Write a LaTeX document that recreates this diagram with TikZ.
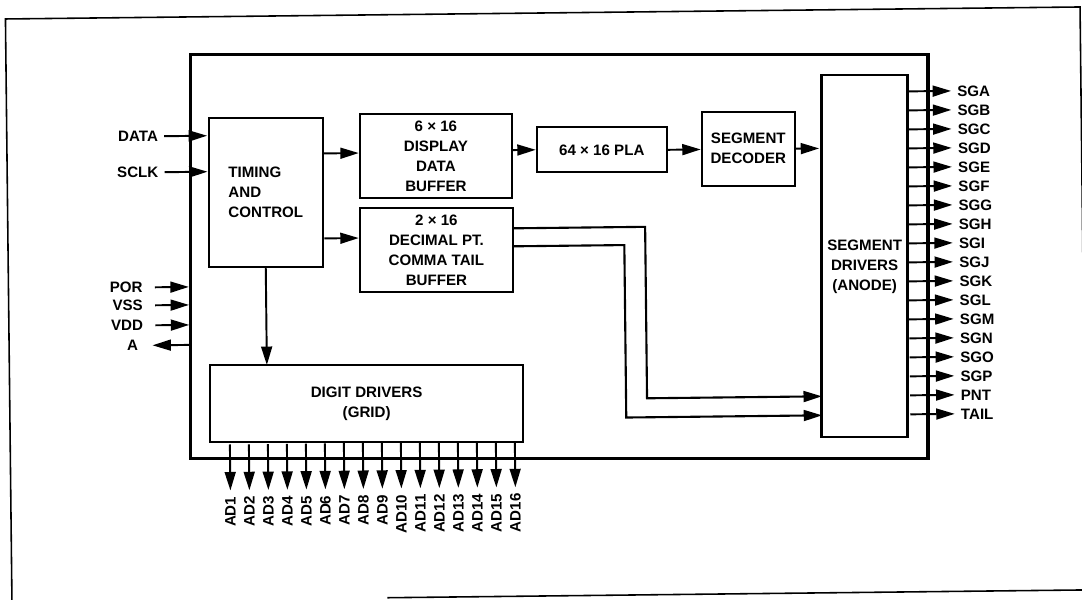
\documentclass[tikz,border=0pt]{standalone}
\usepackage{fontspec}
\setmainfont{Liberation Sans}
\usetikzlibrary{arrows.meta}
\tikzset{
  frame/.style={line width=0.9pt, draw=black},
  chipbox/.style={draw=black, line width=1.8pt, minimum width=14.76cm, minimum height=8.08cm},
  block/.style={draw=black, line width=1.2pt, align=center, inner sep=0pt, font=\bfseries\fontsize{8.6}{11.4}\selectfont},
  blocktext/.style={align=center, inner sep=0pt, font=\bfseries\fontsize{8.6}{11.4}\selectfont},
  pinlabel/.style={font=\bfseries\fontsize{8.6}{10}\selectfont},
  sig/.style={line width=1.1pt, -{Triangle[length=10.5pt, width=6.2pt]}},
  bus/.style={line width=1.2pt, -{Triangle[length=10.5pt, width=6.2pt]}},
}
\begin{document}
\begin{tikzpicture}[x=0.02cm, y=-0.02cm]
\useasboundingbox (0,0) rectangle (1082,599);
\clip (0,0) rectangle (1082,599);
\begin{scope}[rotate around={0.64:(541,300)}]
\draw[frame] (8.6,620) -- (8.6,13) -- (1083.3,13) -- (1083.3,596) -- (384,596);
\node[chipbox] (chip) at (559.5,257) {};
\node[block, minimum width=2.28cm, minimum height=2.98cm, align=left] (timing) at (267,189.5) {TIMING\\AND\\CONTROL};
\node[block, minimum width=3.04cm, minimum height=1.68cm] (dispbuf) at (437.5,155) {6 × 16\\DISPLAY\\DATA\\BUFFER};
\node[block, minimum width=3.06cm, minimum height=1.68cm] (decbuf) at (437,249) {2 × 16\\DECIMAL PT.\\COMMA TAIL\\BUFFER};
\node[block, minimum width=2.6cm, minimum height=0.9cm] (pla) at (603.5,150.5) {64 × 16 PLA};
\node[block, minimum width=1.86cm, minimum height=1.48cm] (segdec) at (750,151) {SEGMENT\\DECODER};
\node[block, minimum width=1.72cm, minimum height=7.24cm] (segdrv) at (865,260) {};
\node[blocktext] (segdrvtxt) at (865,270) {SEGMENT\\DRIVERS\\(ANODE)};
\node[block, minimum width=6.26cm, minimum height=1.54cm] (digit) at (365.5,401.5) {DIGIT DRIVERS\\(GRID)};

\node[pinlabel, anchor=east] (data) at (166,132) {DATA};
\node[pinlabel, anchor=east] (sclk) at (166,168) {SCLK};
\node[pinlabel, anchor=east, inner xsep=6.8pt] (por) at (155,283) {POR};
\node[pinlabel, anchor=east, inner xsep=6.8pt] (vss) at (155,301) {VSS};
\node[pinlabel, anchor=east, inner xsep=6.8pt] (vdd) at (155,321) {VDD};
\node[pinlabel, anchor=east, inner xsep=8pt] (apin) at (152,341) {A};
\draw[sig] (data.east) -- (data.east -| timing.west);
\draw[sig] (sclk.east) -- (sclk.east -| timing.west);
\draw[sig] (por.east) -- (por.east -| chip.west);
\draw[sig] (vss.east) -- (vss.east -| chip.west);
\draw[sig] (vdd.east) -- (vdd.east -| chip.west);
\draw[sig] (apin.east -| chip.west) -- (apin.east);

\draw[sig] (timing.east |- 0,151) -- (dispbuf.west |- 0,151);
\draw[sig] (timing.east |- 0,236) -- (decbuf.west |- 0,236);
\draw[sig] (timing.south) -- (timing.south |- digit.north);
\draw[sig] (dispbuf.east |- pla.west) -- (pla.west);
\draw[sig] (pla.east) -- (pla.east -| segdec.west);
\draw[sig] (segdec.east) -- (segdec.east -| segdrv.west);

\foreach \s [count=\i] in {SGA,SGB,SGC,SGD,SGE,SGF,SGG,SGH,SGI,SGJ,SGK,SGL,SGM,SGN,SGO,SGP,PNT,TAIL}{
  \node[pinlabel, anchor=west] (sg\i) at (953.5,{95.5+(\i-1)*19}) {\s};
  \draw[sig] (segdrv.east |- sg\i.west) -- (sg\i.west);
}
\foreach \i in {1,...,16}{
  \node[pinlabel, rotate=90, anchor=east] (ad\i) at ({228.3+(\i-1)*19},487) {AD\i};
  \draw[sig] (digit.south -| ad\i.east) -- (ad\i.east);
}

\coordinate (pntbend) at (646,0);
\coordinate (tailbend) at (625,0);
\draw[bus] (decbuf.east |- 0,228) -| (pntbend |- sg17.west) -- (segdrv.west |- sg17.west);
\draw[bus] (decbuf.east |- 0,246) -| (tailbend |- sg18.west) -- (segdrv.west |- sg18.west);
\end{scope}
\end{tikzpicture}
\end{document}
